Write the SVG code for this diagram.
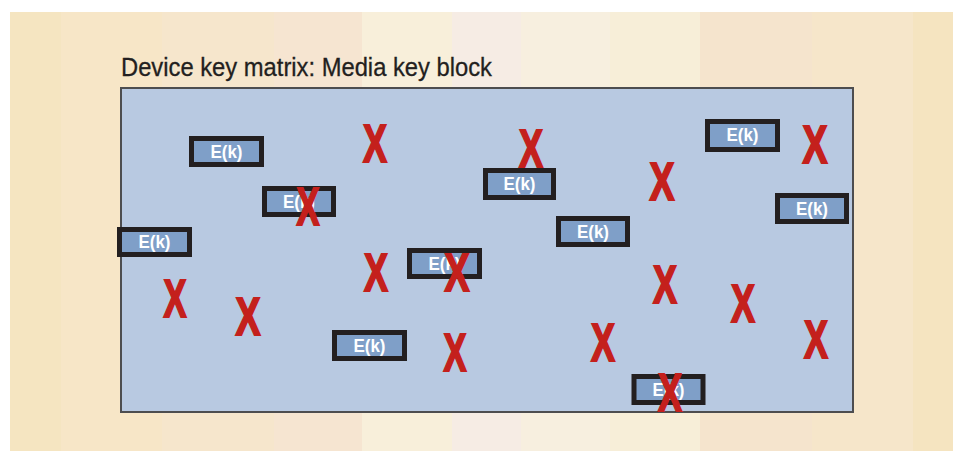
<svg xmlns="http://www.w3.org/2000/svg" width="953" height="451" viewBox="0 0 953 451">
<style>
.ek rect{fill:#7f9fc8;stroke:#231f20;stroke-width:5}
.ek text{fill:#ffffff;font-family:"Liberation Sans Narrow","Liberation Sans",sans-serif;font-weight:bold;font-size:18px;text-anchor:middle}
.x{fill:#c4201c;stroke:#c4201c;stroke-width:2;font-family:"Liberation Sans Narrow","Liberation Sans",sans-serif;font-weight:bold;font-size:54px;text-anchor:middle}
</style>
<rect width="953" height="451" fill="#ffffff"/>
<g id="background">
<rect x="10" y="12" width="51" height="439" fill="#f5e5c1"/>
<rect x="61" y="12" width="101" height="439" fill="#f7e6c7"/>
<rect x="162" y="12" width="112" height="439" fill="#f6e6cc"/>
<rect x="274" y="12" width="88" height="439" fill="#f6e5d1"/>
<rect x="362" y="12" width="90" height="439" fill="#f8efda"/>
<rect x="452" y="12" width="69" height="439" fill="#f6ece4"/>
<rect x="521" y="12" width="89" height="439" fill="#f7efdf"/>
<rect x="610" y="12" width="90" height="439" fill="#f7eed8"/>
<rect x="700" y="12" width="112" height="439" fill="#f5e4cd"/>
<rect x="812" y="12" width="101" height="439" fill="#f6e6ca"/>
<rect x="913" y="12" width="40" height="439" fill="#f5e4c0"/>
</g>
<text id="title" x="121" y="76" font-family="'Liberation Sans Narrow','Liberation Sans',sans-serif" font-size="26" fill="#231f20" stroke="#231f20" stroke-width="0.3" textLength="371" lengthAdjust="spacingAndGlyphs">Device key matrix: Media key block</text>
<g id="matrix">
<rect x="121" y="88" width="732" height="324" fill="#b8c9e1" stroke="#4d4d4f" stroke-width="2"/>
</g>
<g id="marks-behind">
<text class="x" x="531" y="167" textLength="24" lengthAdjust="spacingAndGlyphs">X</text>
</g>
<g id="ek1" class="ek"><rect x="191.5" y="138.5" width="70" height="26"/><text x="226.5" y="158" textLength="32" lengthAdjust="spacingAndGlyphs">E(k)</text></g>
<g id="ek2" class="ek"><rect x="264.5" y="188.5" width="69" height="26"/><text x="299" y="208" textLength="32" lengthAdjust="spacingAndGlyphs">E(k)</text></g>
<g id="ek3" class="ek"><rect x="119.5" y="229.5" width="70" height="25"/><text x="154.5" y="248" textLength="32" lengthAdjust="spacingAndGlyphs">E(k)</text></g>
<g id="ek4" class="ek"><rect x="485.5" y="170.5" width="68" height="27"/><text x="519.5" y="190" textLength="32" lengthAdjust="spacingAndGlyphs">E(k)</text></g>
<g id="ek5" class="ek"><rect x="558.5" y="218.5" width="69" height="26"/><text x="593" y="238" textLength="32" lengthAdjust="spacingAndGlyphs">E(k)</text></g>
<g id="ek6" class="ek"><rect x="707.5" y="121.5" width="70" height="28"/><text x="742.5" y="141" textLength="32" lengthAdjust="spacingAndGlyphs">E(k)</text></g>
<g id="ek7" class="ek"><rect x="777.5" y="195.5" width="69" height="26"/><text x="812" y="215" textLength="32" lengthAdjust="spacingAndGlyphs">E(k)</text></g>
<g id="ek8" class="ek"><rect x="409.5" y="250.5" width="70" height="26"/><text x="444.5" y="270" textLength="32" lengthAdjust="spacingAndGlyphs">E(k)</text></g>
<g id="ek9" class="ek"><rect x="334.5" y="332.5" width="70" height="26"/><text x="369.5" y="352" textLength="32" lengthAdjust="spacingAndGlyphs">E(k)</text></g>
<g id="ek10" class="ek"><rect x="634" y="376.5" width="69" height="26"/><text x="668.5" y="396" textLength="32" lengthAdjust="spacingAndGlyphs">E(k)</text></g>
<g id="marks">
<text class="x" x="375" y="162" textLength="24" lengthAdjust="spacingAndGlyphs">X</text>
<text class="x" x="662" y="200" textLength="25" lengthAdjust="spacingAndGlyphs">X</text>
<text class="x" x="815" y="163" textLength="25" lengthAdjust="spacingAndGlyphs">X</text>
<text class="x" x="308" y="225" textLength="23" lengthAdjust="spacingAndGlyphs">X</text>
<text class="x" x="376" y="291" textLength="24" lengthAdjust="spacingAndGlyphs">X</text>
<text class="x" x="457" y="291" textLength="25" lengthAdjust="spacingAndGlyphs">X</text>
<text class="x" x="455" y="371" textLength="23" lengthAdjust="spacingAndGlyphs">X</text>
<text class="x" x="175" y="317" textLength="23" lengthAdjust="spacingAndGlyphs">X</text>
<text class="x" x="248" y="335" textLength="25" lengthAdjust="spacingAndGlyphs">X</text>
<text class="x" x="603" y="361" textLength="24" lengthAdjust="spacingAndGlyphs">X</text>
<text class="x" x="665" y="303" textLength="24" lengthAdjust="spacingAndGlyphs">X</text>
<text class="x" x="743" y="322" textLength="24" lengthAdjust="spacingAndGlyphs">X</text>
<text class="x" x="816" y="358" textLength="24" lengthAdjust="spacingAndGlyphs">X</text>
<text class="x" x="670" y="411" textLength="24" lengthAdjust="spacingAndGlyphs">X</text>
</g>
</svg>
